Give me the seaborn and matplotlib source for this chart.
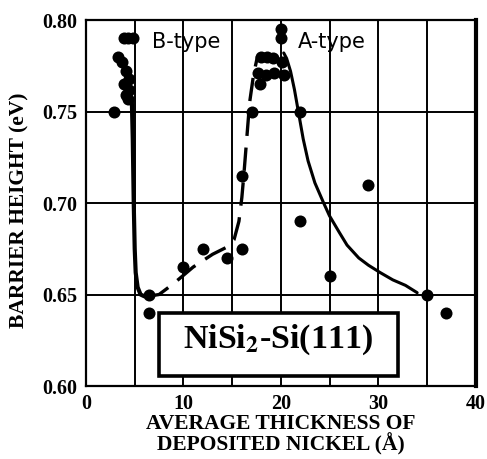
import numpy as np
import pandas as pd
import matplotlib
matplotlib.use("Agg")
import matplotlib.pyplot as plt
from matplotlib.patches import Rectangle
import seaborn as sns

# measured points: B-type cluster, A-type cluster and the rest
b_x = [2.9, 3.9, 4.3, 4.8, 3.3, 3.7, 4.1, 4.4, 3.9, 4.4, 4.1, 4.3]
b_y = [0.75, 0.79, 0.79, 0.79, 0.78, 0.777, 0.772, 0.768, 0.765, 0.762, 0.759, 0.757]
a_x = [20.0, 20.0, 18.0, 18.6, 19.2, 20.1, 17.7, 18.5, 19.3, 20.3, 17.9, 17.0, 22.0]
a_y = [0.795, 0.79, 0.78, 0.78, 0.779, 0.777, 0.771, 0.77, 0.771, 0.77, 0.765, 0.75, 0.75]
o_x = [6.5, 6.5, 10.0, 12.0, 14.5, 16.0, 16.0, 22.0, 25.0, 29.0, 35.0, 37.0]
o_y = [0.65, 0.64, 0.665, 0.675, 0.67, 0.675, 0.715, 0.69, 0.66, 0.71, 0.65, 0.64]

# hand drawn guide curves
bcurve_x = [4.7, 4.8, 4.9, 5.0, 5.1, 5.3, 5.6, 6.0]
bcurve_y = [0.757, 0.735, 0.70, 0.675, 0.662, 0.654, 0.650, 0.649]
dash_x = [6.3, 7.5, 9.0, 11.0, 13.0, 14.5, 15.2, 15.7, 16.0, 16.2, 16.5, 16.8, 17.2, 17.6]
dash_y = [0.649, 0.650, 0.656, 0.665, 0.672, 0.676, 0.680, 0.690, 0.703, 0.715, 0.735, 0.755, 0.770, 0.780]
acurve_x = [20.3, 20.6, 21.0, 21.4, 21.8, 22.3, 22.8, 23.5, 24.4, 25.0, 26.0, 26.8,
            28.0, 29.0, 30.2, 31.5, 32.8, 34.0]
acurve_y = [0.782, 0.779, 0.772, 0.762, 0.750, 0.735, 0.723, 0.711, 0.700, 0.693, 0.684, 0.677,
            0.670, 0.666, 0.662, 0.658, 0.655, 0.651]

pts = pd.DataFrame({"x": b_x + a_x + o_x, "y": b_y + a_y + o_y})

sns.set_style("white")
plt.rcParams["font.family"] = ["Liberation Serif", "DejaVu Serif"]
plt.rcParams["mathtext.fontset"] = "stix"
for key in ["text.color", "axes.labelcolor", "xtick.color", "ytick.color"]:
    plt.rcParams[key] = "black"

fig = plt.figure(figsize=(4.87, 4.59), dpi=100)
ax = fig.add_axes([0.1766, 0.159, 0.8, 0.7974])

for v in [5, 10, 15, 20, 25, 30, 35]:
    ax.axvline(v, color="black", lw=1.4, zorder=1)
for v in [0.65, 0.70, 0.75]:
    ax.axhline(v, color="black", lw=1.4, zorder=1)

sns.lineplot(x=bcurve_x, y=bcurve_y, sort=False, estimator=None, color="black", lw=3, ax=ax, zorder=3)
sns.lineplot(x=dash_x, y=dash_y, sort=False, estimator=None, color="black", lw=2.4,
             linestyle=(0, (7, 3.5)), ax=ax, zorder=3)
sns.lineplot(x=acurve_x, y=acurve_y, sort=False, estimator=None, color="black", lw=2.2, ax=ax, zorder=3)
sns.scatterplot(data=pts, x="x", y="y", color="black", s=75, edgecolor="black", linewidth=0,
                ax=ax, zorder=4)

ax.set_xlim(0, 40)
ax.set_ylim(0.60, 0.80)
ax.set_xticks([0, 10, 20, 30, 40])
ax.set_yticks([0.60, 0.65, 0.70, 0.75, 0.80])
ax.set_yticklabels(["0.60", "0.65", "0.70", "0.75", "0.80"])
ax.tick_params(axis="both", direction="out", length=3, width=1.2, labelsize=14.5, pad=3,
               colors="black")
for lab in ax.get_xticklabels() + ax.get_yticklabels():
    lab.set_fontweight("bold")

for side in ["left", "bottom", "top"]:
    ax.spines[side].set_linewidth(1.6)
    ax.spines[side].set_color("black")
ax.spines["right"].set_linewidth(3)
ax.spines["right"].set_color("black")

ax.set_xlabel("AVERAGE THICKNESS OF\nDEPOSITED NICKEL (Å)", fontsize=15.5, fontweight="bold",
              labelpad=0, linespacing=0.95, color="black")
ax.set_ylabel("BARRIER HEIGHT (eV)", fontsize=15.5, fontweight="bold", color="black")
ax.yaxis.set_label_coords(-0.145, 0.48)

sans = ["DejaVu Sans"]
ax.text(6.8, 0.7847, "B-type", fontsize=15, family=sans, va="baseline", ha="left",
        color="black", zorder=5)
ax.text(21.7, 0.7847, "A-type", fontsize=15, family=sans, va="baseline", ha="left",
        color="black", zorder=5)

ax.add_patch(Rectangle((7.5, 0.6055), 24.5, 0.0345, facecolor="white", edgecolor="black",
                       linewidth=2.6, zorder=6))
ax.text(19.7, 0.6208, r"NiSi$_\mathbf{2}$-Si(111)", fontsize=24.5, fontweight="bold",
        ha="center", va="baseline", color="black", zorder=7)

fig.savefig("out.png", dpi=100)
